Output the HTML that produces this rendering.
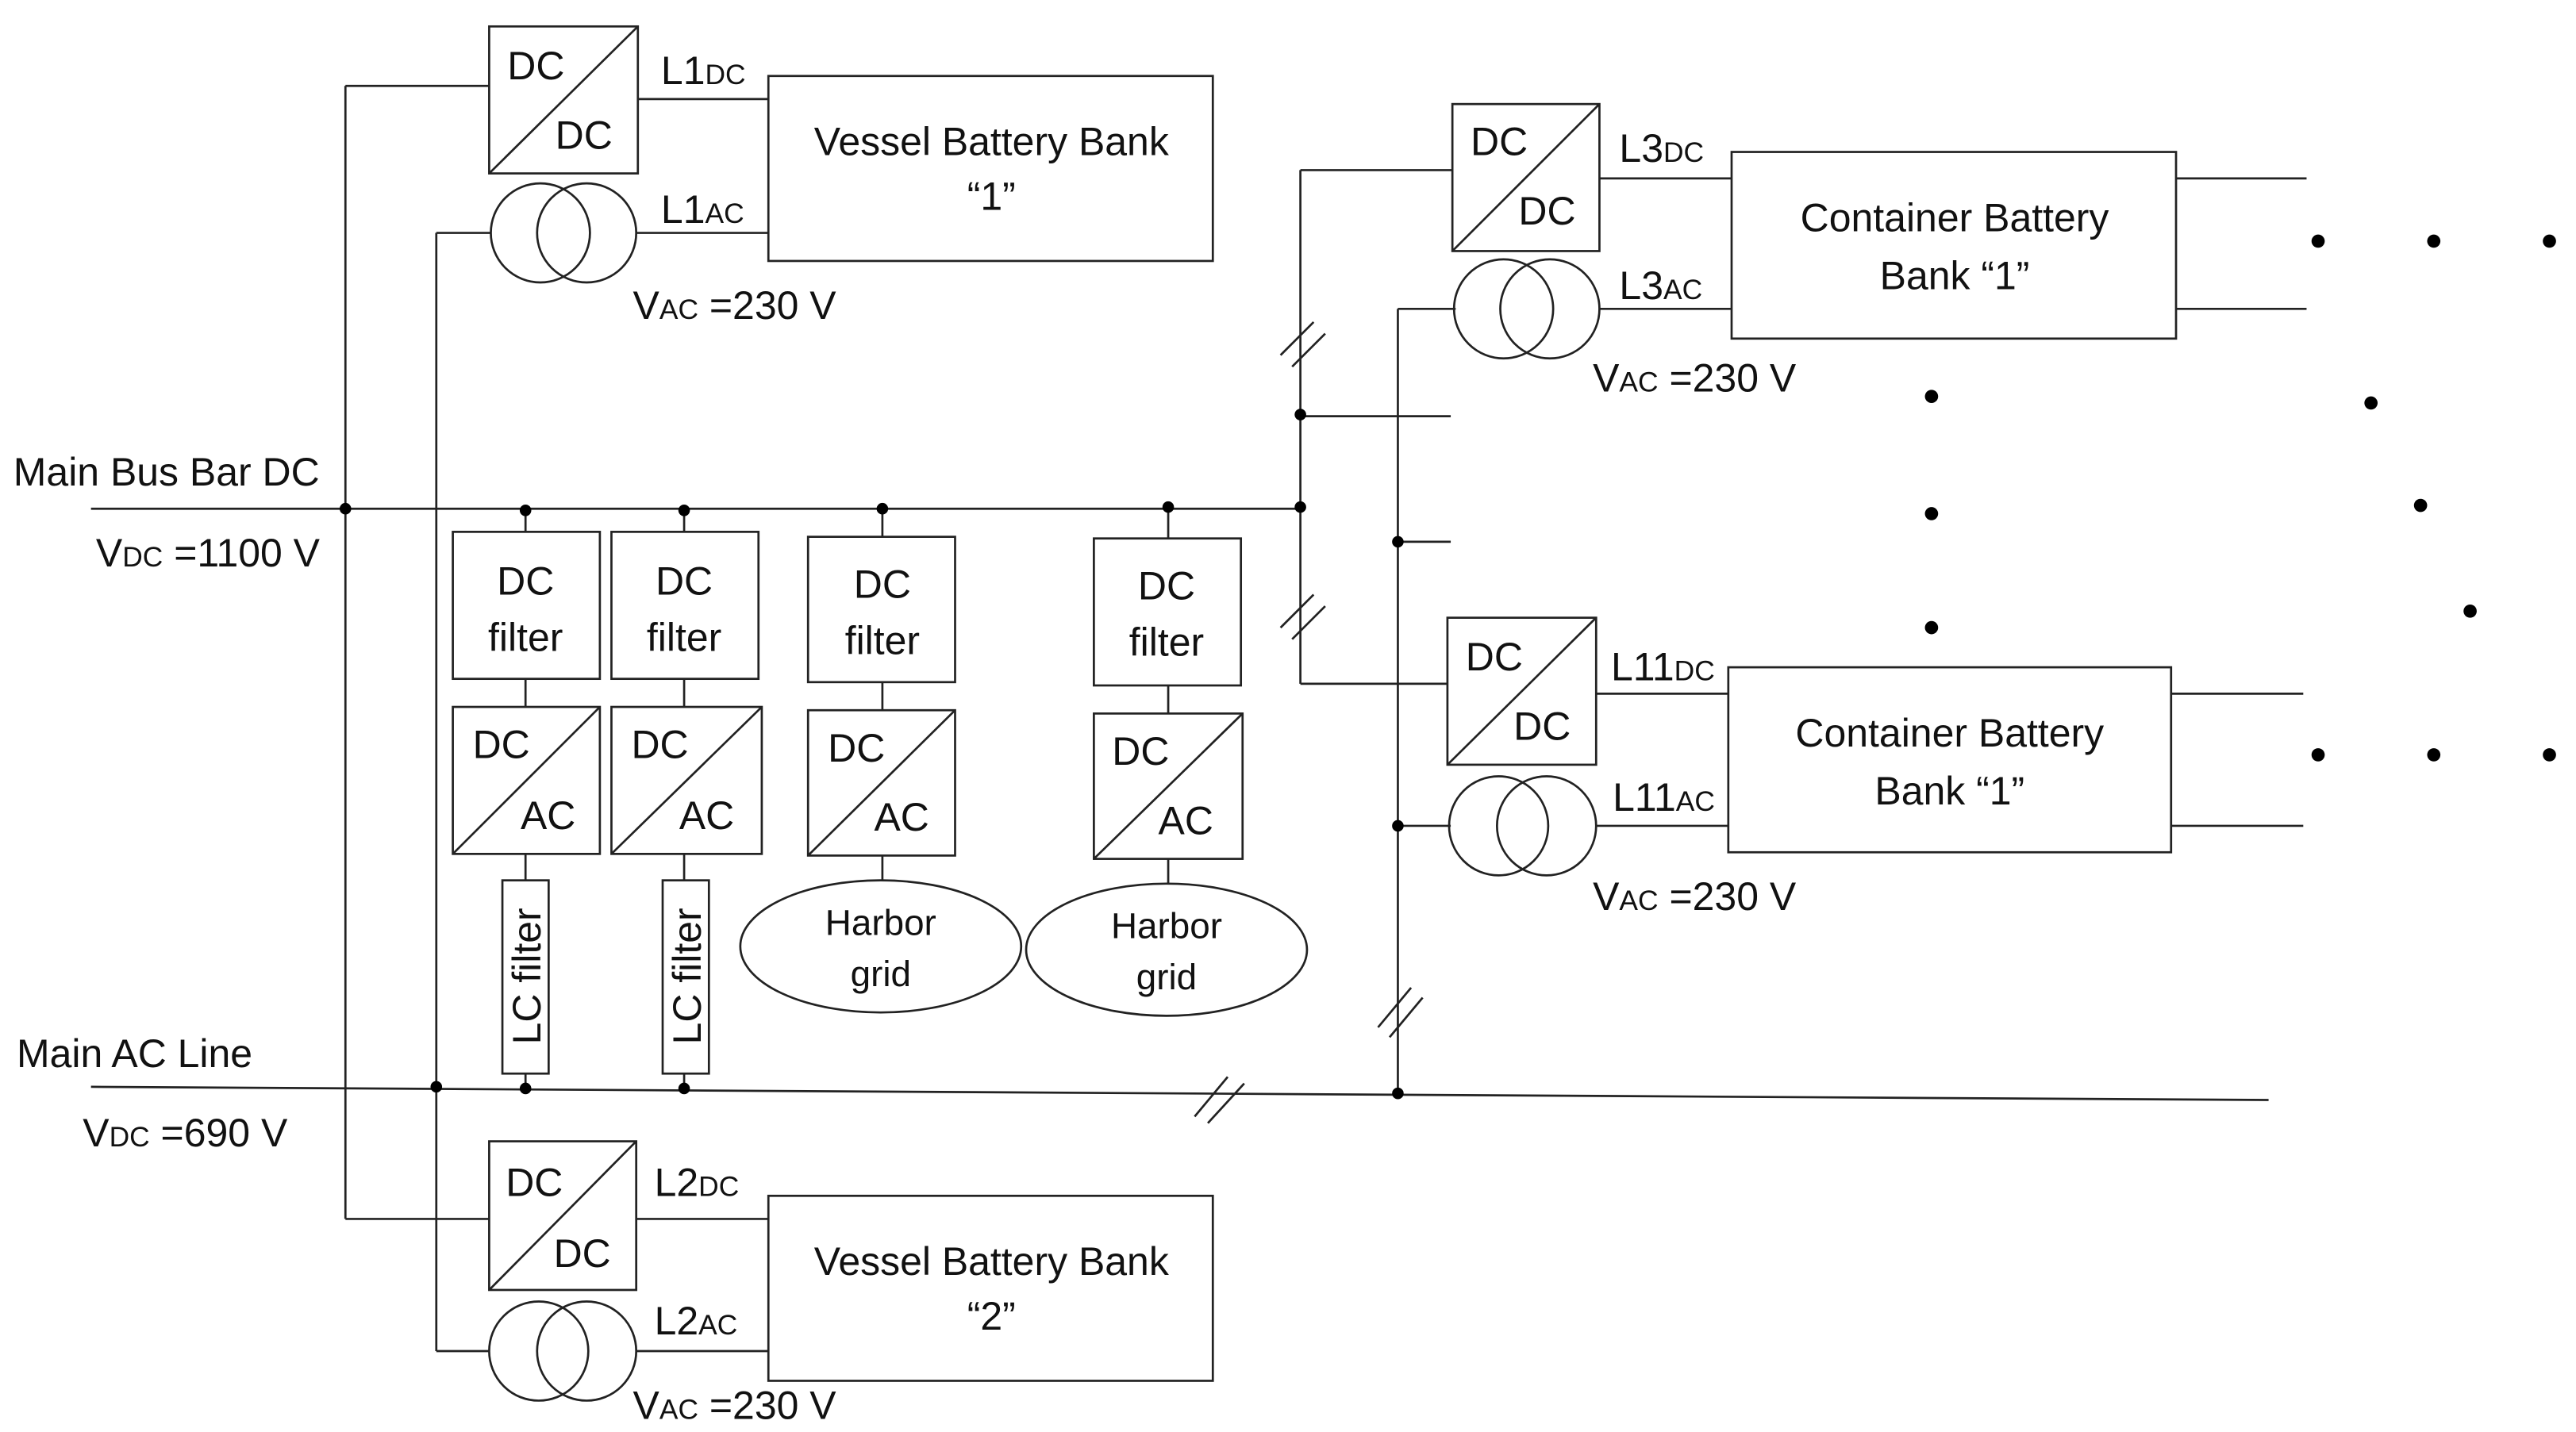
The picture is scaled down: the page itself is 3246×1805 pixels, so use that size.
<!DOCTYPE html>
<html><head><meta charset="utf-8"><style>html,body{margin:0;padding:0;background:#fff}svg{display:block}</style></head>
<body>
<svg width="3246" height="1805" viewBox="0 0 1559 867" xmlns="http://www.w3.org/2000/svg" font-family="Liberation Sans, sans-serif" fill="none" stroke="#222">
<g stroke-width="1.3">
<!-- main DC bus -->
<line x1="55" y1="308" x2="787" y2="308"/>
<line x1="209" y1="52" x2="209" y2="738"/>
<line x1="209" y1="52" x2="296" y2="52"/>
<line x1="209" y1="738" x2="296" y2="738"/>
<line x1="264" y1="141" x2="264" y2="818"/>
<line x1="264" y1="141" x2="297" y2="141"/>
<line x1="264" y1="818" x2="296" y2="818"/>
<!-- main AC -->
<line x1="55" y1="658" x2="1373" y2="666"/>
<!-- top left DC/DC -->
<rect x="296" y="16" width="90" height="89"/><line x1="296" y1="105" x2="386" y2="16"/>
<circle cx="327" cy="141" r="30"/><circle cx="355" cy="141" r="30"/>
<line x1="386" y1="60" x2="465" y2="60"/><line x1="385" y1="141" x2="465" y2="141"/>
<rect x="465" y="46" width="269" height="112"/>
<!-- bottom left -->
<rect x="296" y="691" width="89" height="90"/><line x1="296" y1="781" x2="385" y2="691"/>
<circle cx="326" cy="818" r="30"/><circle cx="355" cy="818" r="30"/>
<line x1="385" y1="738" x2="465" y2="738"/><line x1="385" y1="818" x2="465" y2="818"/>
<rect x="465" y="724" width="269" height="112"/>
<!-- filter columns -->
<line x1="318" y1="308" x2="318" y2="322"/><line x1="318" y1="411" x2="318" y2="428"/><line x1="318" y1="517" x2="318" y2="533"/><line x1="318" y1="650" x2="318" y2="659"/>
<rect x="274" y="322" width="89" height="89"/><rect x="274" y="428" width="89" height="89"/><line x1="274" y1="517" x2="363" y2="428"/>
<rect x="304" y="533" width="28" height="117"/>
<line x1="414" y1="308" x2="414" y2="322"/><line x1="414" y1="411" x2="414" y2="428"/><line x1="414" y1="517" x2="414" y2="533"/><line x1="414" y1="650" x2="414" y2="659"/>
<rect x="370" y="322" width="89" height="89"/><rect x="370" y="428" width="91" height="89"/><line x1="370" y1="517" x2="461" y2="428"/>
<rect x="401" y="533" width="28" height="117"/>
<line x1="534" y1="308" x2="534" y2="325"/><line x1="534" y1="413" x2="534" y2="430"/><line x1="534" y1="518" x2="534" y2="533"/>
<rect x="489" y="325" width="89" height="88"/><rect x="489" y="430" width="89" height="88"/><line x1="489" y1="518" x2="578" y2="430"/>
<ellipse cx="533" cy="573" rx="85" ry="40"/>
<line x1="707" y1="307" x2="707" y2="326"/><line x1="707" y1="415" x2="707" y2="432"/><line x1="707" y1="520" x2="707" y2="535"/>
<rect x="662" y="326" width="89" height="89"/><rect x="662" y="432" width="90" height="88"/><line x1="662" y1="520" x2="752" y2="432"/>
<ellipse cx="706" cy="575" rx="85" ry="40"/>
<!-- right side -->
<line x1="787" y1="103" x2="787" y2="414"/>
<line x1="787" y1="103" x2="879" y2="103"/><line x1="787" y1="414" x2="876" y2="414"/>
<line x1="846" y1="187" x2="846" y2="662"/>
<line x1="846" y1="187" x2="881" y2="187"/><line x1="846" y1="500" x2="878" y2="500"/>
<line x1="787" y1="252" x2="878" y2="252"/><line x1="846" y1="328" x2="878" y2="328"/>
<rect x="879" y="63" width="89" height="89"/><line x1="879" y1="152" x2="968" y2="63"/>
<circle cx="910" cy="187" r="30"/><circle cx="938" cy="187" r="30"/>
<rect x="876" y="374" width="90" height="89"/><line x1="876" y1="463" x2="966" y2="374"/>
<circle cx="907" cy="500" r="30"/><circle cx="936" cy="500" r="30"/>
<line x1="968" y1="108" x2="1048" y2="108"/><line x1="968" y1="187" x2="1048" y2="187"/>
<rect x="1048" y="92" width="269" height="113"/>
<line x1="1317" y1="108" x2="1396" y2="108"/><line x1="1317" y1="187" x2="1396" y2="187"/>
<line x1="966" y1="420" x2="1046" y2="420"/><line x1="966" y1="500" x2="1046" y2="500"/>
<rect x="1046" y="404" width="268" height="112"/>
<line x1="1314" y1="420" x2="1394" y2="420"/><line x1="1314" y1="500" x2="1394" y2="500"/>
<!-- slashes -->
<line x1="775" y1="215" x2="795" y2="195"/><line x1="782" y1="222" x2="802" y2="202"/>
<line x1="775" y1="380" x2="795" y2="360"/><line x1="782" y1="387" x2="802" y2="367"/>
<line x1="834" y1="622" x2="854" y2="598"/><line x1="841" y1="628" x2="861" y2="604"/>
<line x1="723" y1="676" x2="743" y2="652"/><line x1="731" y1="680" x2="753" y2="656"/>
</g>
<g fill="#000" stroke="none">
<circle cx="209" cy="308" r="3.5"/><circle cx="318" cy="309" r="3.5"/><circle cx="414" cy="309" r="3.5"/><circle cx="534" cy="308" r="3.5"/><circle cx="707" cy="307" r="3.5"/><circle cx="787" cy="307" r="3.5"/>
<circle cx="264" cy="658" r="3.5"/><circle cx="318" cy="659" r="3.5"/><circle cx="414" cy="659" r="3.5"/><circle cx="846" cy="662" r="3.5"/>
<circle cx="787" cy="251" r="3.5"/><circle cx="846" cy="328" r="3.5"/><circle cx="846" cy="500" r="3.5"/>
<circle cx="1403" cy="146" r="4"/><circle cx="1473" cy="146" r="4"/><circle cx="1543" cy="146" r="4"/>
<circle cx="1169" cy="240" r="4"/><circle cx="1169" cy="311" r="4"/><circle cx="1169" cy="380" r="4"/>
<circle cx="1435" cy="244" r="4"/><circle cx="1465" cy="306" r="4"/><circle cx="1495" cy="370" r="4"/>
<circle cx="1403" cy="457" r="4"/><circle cx="1473" cy="457" r="4"/><circle cx="1543" cy="457" r="4"/>
</g>
<g fill="#111" stroke="none" font-size="24">
<text x="307" y="48">DC</text><text x="336" y="90">DC</text>
<text x="306" y="724">DC</text><text x="335" y="767">DC</text>
<text x="890" y="94">DC</text><text x="919" y="136">DC</text>
<text x="887" y="406">DC</text><text x="916" y="448">DC</text>
<text x="400" y="51">L1<tspan font-size="17">DC</tspan></text>
<text x="400" y="135">L1<tspan font-size="17">AC</tspan></text>
<text x="396" y="724">L2<tspan font-size="17">DC</tspan></text>
<text x="396" y="808">L2<tspan font-size="17">AC</tspan></text>
<text x="980" y="98">L3<tspan font-size="17">DC</tspan></text>
<text x="980" y="181">L3<tspan font-size="17">AC</tspan></text>
<text x="975" y="412">L11<tspan font-size="17">DC</tspan></text>
<text x="976" y="491">L11<tspan font-size="17">AC</tspan></text>
<text x="383" y="193">V<tspan font-size="17">AC</tspan> =230 V</text>
<text x="383" y="859">V<tspan font-size="17">AC</tspan> =230 V</text>
<text x="964" y="237">V<tspan font-size="17">AC</tspan> =230 V</text>
<text x="964" y="551">V<tspan font-size="17">AC</tspan> =230 V</text>
<text x="8" y="294">Main Bus Bar DC</text>
<text x="58" y="343">V<tspan font-size="17">DC</tspan> =1100 V</text>
<text x="10" y="646">Main AC Line</text>
<text x="50" y="694">V<tspan font-size="17">DC</tspan> =690 V</text>
<g text-anchor="middle">
<text x="600" y="94">Vessel Battery Bank</text><text x="600" y="127">“1”</text>
<text x="600" y="772">Vessel Battery Bank</text><text x="600" y="805">“2”</text>
<text x="1183" y="140">Container Battery</text><text x="1183" y="175">Bank “1”</text>
<text x="1180" y="452">Container Battery</text><text x="1180" y="487">Bank “1”</text>
<text x="318" y="360">DC</text><text x="318" y="394">filter</text>
<text x="414" y="360">DC</text><text x="414" y="394">filter</text>
<text x="534" y="362">DC</text><text x="534" y="396">filter</text>
<text x="706" y="363">DC</text><text x="706" y="397">filter</text>
<text x="533" y="566" font-size="22">Harbor</text><text x="533" y="597" font-size="22">grid</text>
<text x="706" y="568" font-size="22">Harbor</text><text x="706" y="599" font-size="22">grid</text>
</g>
<text x="286" y="459">DC</text><text x="315" y="502">AC</text>
<text x="382" y="459">DC</text><text x="411" y="502">AC</text>
<text x="501" y="461">DC</text><text x="529" y="503">AC</text>
<text x="673" y="463">DC</text><text x="701" y="505">AC</text>
<text transform="translate(327,591) rotate(-90)" text-anchor="middle" font-size="24">LC filter</text>
<text transform="translate(424,591) rotate(-90)" text-anchor="middle" font-size="24">LC filter</text>
</g>
</svg>
</body></html>
